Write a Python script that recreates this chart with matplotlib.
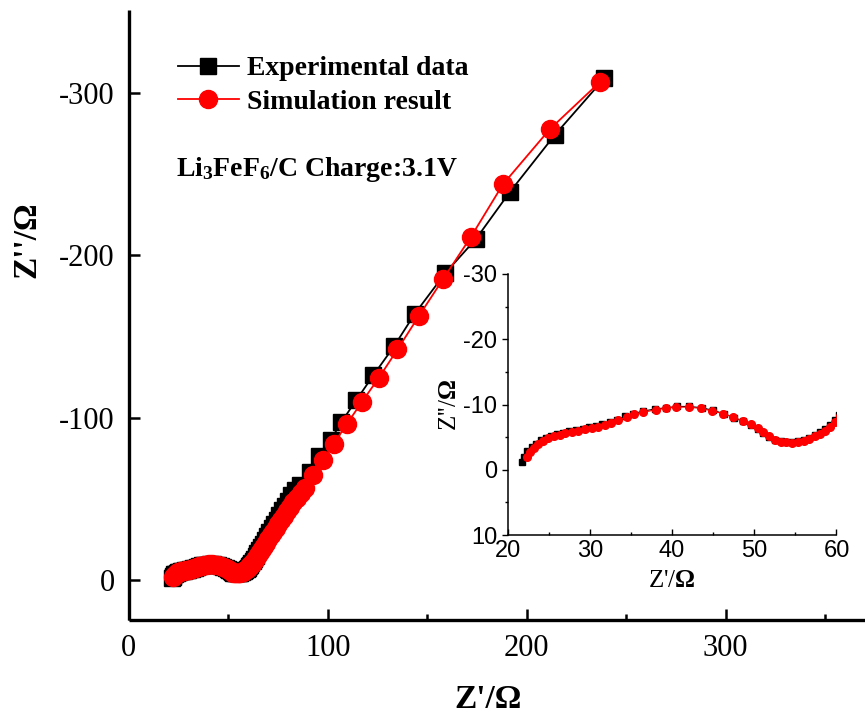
import matplotlib
matplotlib.use("Agg")
import matplotlib.pyplot as plt
from matplotlib.ticker import MultipleLocator

plt.rcParams['mathtext.fontset'] = 'custom'
plt.rcParams['mathtext.rm'] = 'Liberation Serif'
plt.rcParams['mathtext.it'] = 'Liberation Serif:italic'
plt.rcParams['mathtext.bf'] = 'Liberation Serif:bold'
plt.rcParams['axes.unicode_minus'] = False

# Z' / Z'' (ohm)
exp_x = [21.7, 22.0, 22.4, 22.9, 23.4, 24.0, 24.6, 25.3, 26.0, 26.7,
         27.5, 28.3, 29.1, 29.9, 30.7, 31.5, 32.4, 33.3, 34.3, 35.3,
         36.5, 37.9, 39.2, 40.6, 42.1, 43.6, 45.0, 46.3, 47.5, 48.6,
         49.6, 50.4, 51.1, 51.8, 52.5, 53.2, 53.9, 54.6, 55.3, 56.0,
         56.7, 57.4, 58.0, 58.6, 59.2, 59.8, 60.3, 60.9, 61.5, 62.2,
         62.9, 63.7, 64.5, 65.4, 66.3, 67.3, 68.3, 69.4, 70.5, 71.7,
         72.9, 74.2, 75.5, 76.9, 78.4, 80.0, 81.7, 83.6, 86.0, 91.0,
         95.6, 101.5, 106.8, 114.4, 122.8, 133.3, 143.7, 159.0, 174.4, 191.5,
         214.0, 239.0]
exp_y = [-1.2, -2.0, -2.8, -3.5, -4.0, -4.5, -4.9, -5.2, -5.5, -5.7,
         -5.9, -6.1, -6.3, -6.5, -6.7, -7.0, -7.3, -7.7, -8.2, -8.6,
         -9.0, -9.3, -9.5, -9.7, -9.7, -9.5, -9.1, -8.6, -8.0, -7.4,
         -6.8, -6.2, -5.6, -5.0, -4.6, -4.4, -4.3, -4.3, -4.4, -4.6,
         -4.9, -5.3, -5.8, -6.3, -6.9, -7.6, -8.4, -9.4, -10.5, -11.8,
         -13.2, -14.8, -16.5, -18.4, -20.4, -22.5, -24.7, -27.0, -29.4, -31.9,
         -34.5, -37.2, -40.0, -42.9, -45.9, -49.0, -52.2, -55.6, -58.6, -66.8,
         -76.7, -86.4, -97.3, -111.0, -126.0, -144.0, -164.0, -189.0, -210.0, -239.0,
         -274.0, -309.0]

sim_x = [22.3, 22.7, 23.2, 23.7, 24.3, 24.9, 25.6, 26.3, 27.0, 27.8,
         28.6, 29.4, 30.2, 31.0, 31.8, 32.6, 33.4, 34.5, 35.4, 36.5,
         38.0, 39.2, 40.5, 42.0, 43.5, 44.9, 46.2, 47.4, 48.6, 49.6,
         50.4, 51.1, 51.8, 52.5, 53.2, 53.9, 54.6, 55.3, 56.0, 56.7,
         57.4, 58.0, 58.6, 59.2, 59.8, 60.4, 61.0, 61.7, 62.4, 63.2,
         64.0, 64.9, 65.8, 66.8, 67.8, 68.9, 70.0, 71.2, 72.4, 73.7,
         75.0, 76.4, 77.8, 79.3, 80.9, 82.6, 84.4, 86.3, 88.4, 92.5,
         97.5, 103.0, 109.5, 117.0, 125.6, 135.0, 145.7, 158.0, 172.0, 188.0,
         211.6, 237.0]
sim_y = [-2.0, -2.7, -3.4, -3.9, -4.4, -4.8, -5.1, -5.4, -5.6, -5.8,
         -6.0, -6.2, -6.4, -6.6, -6.9, -7.2, -7.6, -8.1, -8.5, -8.8,
         -9.2, -9.4, -9.6, -9.6, -9.4, -9.0, -8.6, -8.1, -7.5, -7.0,
         -6.4, -5.8, -5.2, -4.6, -4.3, -4.2, -4.15, -4.2, -4.4, -4.7,
         -5.1, -5.5, -6.0, -6.6, -7.3, -8.2, -9.0, -10.0, -11.2, -12.5,
         -13.9, -15.5, -17.2, -19.1, -21.0, -23.1, -25.2, -27.5, -29.8, -32.2,
         -34.6, -37.2, -39.7, -42.3, -45.0, -47.8, -50.6, -53.8, -57.0, -64.5,
         -74.0, -84.0, -96.0, -109.5, -124.5, -142.0, -162.5, -185.5, -211.5, -243.7,
         -277.7, -307.0]

serif = 'Liberation Serif'

fig = plt.figure(figsize=(8.65, 7.22), dpi=100)
ax = fig.add_axes([0.149, 0.141, 0.851, 0.845])

ax.plot(exp_x, exp_y, color='black', lw=1.3, marker='s', ms=11.5,
        label='Experimental data')
ax.plot(sim_x, sim_y, color='red', lw=1.3, marker='o', ms=13,
        label='Simulation result')

ax.set_xlim(0, 370)
ax.set_ylim(24.7, -351)
ax.xaxis.set_major_locator(MultipleLocator(100))
ax.xaxis.set_minor_locator(MultipleLocator(50))
ax.yaxis.set_major_locator(MultipleLocator(100))
ax.spines['top'].set_visible(False)
ax.spines['right'].set_visible(False)
for s in ['left', 'bottom']:
    ax.spines[s].set_linewidth(2.4)
    ax.spines[s].set_capstyle('butt')
ax.tick_params(which='major', direction='in', length=8, width=1.8, pad=10)
ax.tick_params(which='minor', direction='in', length=4.5, width=1.8)
for lab in ax.get_xticklabels() + ax.get_yticklabels():
    lab.set_fontfamily(serif)
    lab.set_fontsize(22)

fig.text(488/865, 1 - 700/722, "Z'/Ω", family=serif, weight='bold',
         fontsize=24, ha='center', va='center')
fig.text(27/865, 1 - 240/722, "Z''/Ω", family=serif, weight='bold',
         fontsize=24, ha='center', va='center', rotation=90)

leg = ax.legend(loc='upper left', bbox_to_anchor=(164/865, 1 - 42/722),
                bbox_transform=fig.transFigure, frameon=False,
                prop={'family': serif, 'weight': 'bold', 'size': 20},
                handlelength=2.2, handletextpad=0.3, labelspacing=0.3,
                borderpad=0)

fig.text(176/865, 1 - 170/722, r"Li$_\mathbf{3}$FeF$_\mathbf{6}$/C Charge:3.1V",
         family=serif, weight='bold', fontsize=20, va='center')

# inset
ins = fig.add_axes([0.587, 0.259, 0.380, 0.3615])
ins.plot(exp_x, exp_y, color='black', lw=0.8, marker='s', ms=4.5)
ins.plot(sim_x, sim_y, color='red', lw=0.8, marker='o', ms=5.5)
ins.set_xlim(20, 60)
ins.set_ylim(10, -30)
ins.xaxis.set_major_locator(MultipleLocator(10))
ins.xaxis.set_minor_locator(MultipleLocator(5))
ins.yaxis.set_major_locator(MultipleLocator(10))
ins.yaxis.set_minor_locator(MultipleLocator(5))
ins.spines['top'].set_visible(False)
ins.spines['right'].set_visible(False)
for s in ['left', 'bottom']:
    ins.spines[s].set_linewidth(1.1)
ins.tick_params(axis='x', which='major', direction='in', length=4, width=1)
ins.tick_params(axis='x', which='minor', direction='in', length=2.5, width=1)
ins.tick_params(axis='y', which='major', direction='out', length=4, width=1)
ins.tick_params(axis='y', which='minor', direction='out', length=2, width=1)
for lab in ins.get_xticklabels() + ins.get_yticklabels():
    lab.set_fontfamily('Liberation Sans')
    lab.set_fontsize(17)
ins.set_xlabel(r"Z'/$\mathbf{\Omega}$", family=serif, fontsize=18, labelpad=6)
ins.set_ylabel(r"Z''/$\mathbf{\Omega}$", family=serif, fontsize=18, labelpad=2)

fig.savefig('out.png', dpi=100)
